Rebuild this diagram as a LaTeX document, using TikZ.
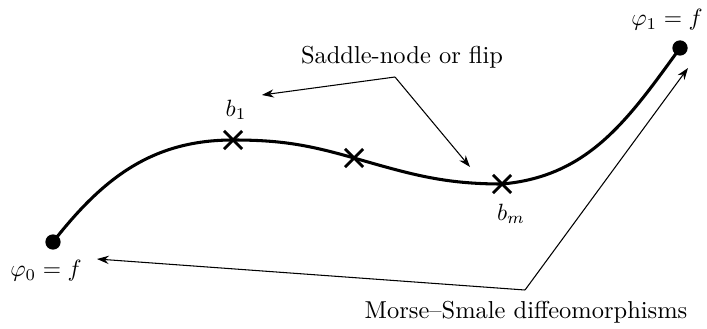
\documentclass[tikz,border=0pt]{standalone}
\usetikzlibrary{shapes.misc,arrows.meta}
\begin{document}
\begin{tikzpicture}[x=0.425pt,y=0.425pt,
  every node/.style={font=\fontsize{10.4}{12}\selectfont},
  curve/.style={line width=1.3pt},
  bif/.style={cross out,draw,line width=1.2pt,minimum size=6.5pt,inner sep=0pt},
  endpt/.style={circle,fill,inner sep=0pt,minimum size=6.5pt},
  lbl/.style={inner sep=0pt},
  pointer/.style={line width=0.45pt,-{Stealth[length=5pt,width=3.5pt]}}]
\useasboundingbox (0,0) rectangle (707,328);
\node[endpt] (p0) at (53,86) {};
\node[endpt] (p1) at (680,280) {};
\node[bif] (b1) at (233,188) {};
\node[bif] (bmid) at (354,170) {};
\node[bif] (bm) at (502,144) {};
\draw[curve] (p0.center) to[out=52,in=180] (b1.center) to[out=0,in=164] (bmid.center)
  to[out=-16,in=180] (bm.center) to[out=5,in=-126] (p1.center);
\node[lbl] (l0) at (46,57) {$\varphi_0 = f$};
\node[lbl] (l1) at (667,308) {$\varphi_1 = f$};
\node[lbl] (lb1) at (236,218) {$b_1$};
\node[lbl] (lbm) at (511,114) {$b_m$};
\node[lbl] (sn) at (402,271) {Saddle-node or flip};
\node[lbl] (ms) at (526,16) {Morse--Smale diffeomorphisms};
\coordinate (sv) at (395,251);
\coordinate (sa) at (262,233);
\coordinate (sb) at (470,161);
\coordinate (mv) at (525,38);
\coordinate (ma) at (97,69);
\coordinate (mb) at (688,260);
\draw[pointer] (sv) -- (sa);
\draw[pointer] (sv) -- (sb);
\draw[pointer] (mv) -- (ma);
\draw[pointer] (mv) -- (mb);
\end{tikzpicture}
\end{document}
